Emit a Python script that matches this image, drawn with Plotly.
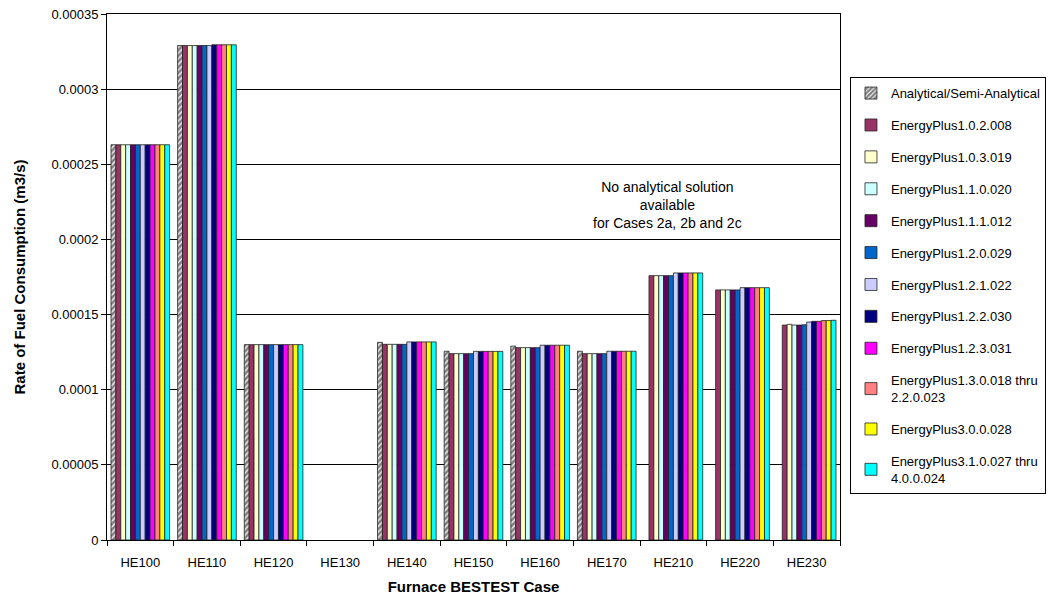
import plotly.graph_objects as go

cases = ["HE100", "HE110", "HE120", "HE130", "HE140", "HE150", "HE160", "HE170", "HE210", "HE220", "HE230"]

analytical = [0.000263, 0.000329, 0.000130, None, 0.0001315, 0.0001256, 0.0001290, 0.0001256, None, None, None]
ep_1_0_2 = [0.000263, 0.000329, 0.000130, None, 0.0001302, 0.0001240, 0.0001280, 0.0001240, 0.0001759, 0.0001664, 0.0001430]
ep_1_0_3 = [0.000263, 0.000329, 0.000130, None, 0.0001302, 0.0001240, 0.0001280, 0.0001240, 0.0001759, 0.0001664, 0.0001435]
ep_1_1_0 = [0.000263, 0.000329, 0.000130, None, 0.0001302, 0.0001240, 0.0001280, 0.0001240, 0.0001759, 0.0001664, 0.0001430]
ep_1_1_1 = [0.000263, 0.000329, 0.000130, None, 0.0001302, 0.0001240, 0.0001280, 0.0001240, 0.0001759, 0.0001664, 0.0001430]
ep_1_2_0 = [0.000263, 0.000329, 0.000130, None, 0.0001302, 0.0001240, 0.0001280, 0.0001240, 0.0001759, 0.0001664, 0.0001432]
ep_1_2_1 = [0.000263, 0.000329, 0.000130, None, 0.0001318, 0.0001255, 0.0001296, 0.0001256, 0.0001777, 0.0001679, 0.0001450]
ep_1_2_2 = [0.000263, 0.0003295, 0.000130, None, 0.0001318, 0.0001255, 0.0001296, 0.0001256, 0.0001777, 0.0001679, 0.0001455]
ep_1_2_3 = [0.000263, 0.0003295, 0.000130, None, 0.0001318, 0.0001255, 0.0001296, 0.0001256, 0.0001777, 0.0001679, 0.0001455]
ep_1_3_0 = [0.000263, 0.0003295, 0.000130, None, 0.0001318, 0.0001255, 0.0001296, 0.0001256, 0.0001777, 0.0001679, 0.0001460]
ep_3_0_0 = [0.000263, 0.0003295, 0.000130, None, 0.0001318, 0.0001255, 0.0001296, 0.0001256, 0.0001777, 0.0001679, 0.0001460]
ep_3_1_0 = [0.000263, 0.0003295, 0.000130, None, 0.0001318, 0.0001255, 0.0001296, 0.0001256, 0.0001777, 0.0001679, 0.0001462]

series_names = [
    "Analytical/Semi-Analytical",
    "EnergyPlus1.0.2.008",
    "EnergyPlus1.0.3.019",
    "EnergyPlus1.1.0.020",
    "EnergyPlus1.1.1.012",
    "EnergyPlus1.2.0.029",
    "EnergyPlus1.2.1.022",
    "EnergyPlus1.2.2.030",
    "EnergyPlus1.2.3.031",
    "EnergyPlus1.3.0.018 thru<br>2.2.0.023",
    "EnergyPlus3.0.0.028",
    "EnergyPlus3.1.0.027 thru<br>4.0.0.024",
]
series_values = [analytical, ep_1_0_2, ep_1_0_3, ep_1_1_0, ep_1_1_1, ep_1_2_0,
                 ep_1_2_1, ep_1_2_2, ep_1_2_3, ep_1_3_0, ep_3_0_0, ep_3_1_0]
series_colors = ["#FFFFFF", "#993366", "#FFFFCC", "#CCFFFF", "#660066", "#0066CC",
                 "#CCCCFF", "#000080", "#FF00FF", "#FF8080", "#FFFF00", "#00FFFF"]

y_tickvals = [0, 0.00005, 0.0001, 0.00015, 0.0002, 0.00025, 0.0003, 0.00035]
y_ticktext = ["0", "0.00005", "0.0001", "0.00015", "0.0002", "0.00025", "0.0003", "0.00035"]

fig = go.Figure()
for i, (name, vals, col) in enumerate(zip(series_names, series_values, series_colors)):
    marker = dict(color=col, line=dict(color="#222222", width=0.8))
    if i == 0:
        marker["pattern"] = dict(shape="/", fgcolor="#000000", bgcolor="#FFFFFF",
                                 size=4, solidity=0.7)
    fig.add_trace(go.Bar(x=cases, y=vals, name=name, marker=marker,
                         legendgroup=name))

font_family = "Liberation Sans, Arial, sans-serif"

fig.update_layout(
    width=1049, height=594,
    margin=dict(l=99, r=217, t=6, b=62),
    paper_bgcolor="#FFFFFF", plot_bgcolor="#FFFFFF",
    barmode="group", bargap=0.12, bargroupgap=0,
    font=dict(family=font_family, size=13, color="#000000"),
    legend=dict(x=1.0136, y=0.88, xanchor="left", yanchor="top",
                bordercolor="#000000", borderwidth=1,
                font=dict(size=13, family=font_family),
                tracegroupgap=12, itemwidth=30),
    xaxis=dict(
        type="category", categoryorder="array", categoryarray=cases,
        showline=True, linecolor="#000000", linewidth=1, mirror=True,
        ticks="outside", tickson="boundaries", ticklen=5, tickcolor="#000000",
        tickfont=dict(size=13), showgrid=False, automargin=False,
        ticklabelstandoff=10, ticklabeloverflow="allow",
        title=dict(text="<b>Furnace BESTEST Case</b>", font=dict(size=15), standoff=12),
    ),
    yaxis=dict(
        range=[0, 0.00035], tickvals=y_tickvals, ticktext=y_ticktext,
        showline=True, linecolor="#000000", linewidth=1, mirror=True,
        ticks="outside", ticklen=5, tickcolor="#000000",
        showgrid=True, gridcolor="#000000", gridwidth=1,
        tickfont=dict(size=13), zeroline=False, automargin=False,
        ticklabeloverflow="allow",
        title=dict(text="<b>Rate of Fuel Consumption (m3/s)</b>", font=dict(size=15), standoff=22),
    ),
    annotations=[dict(
        xref="paper", yref="y", x=0.765, y=0.000223,
        xanchor="center", yanchor="middle",
        text="No analytical solution<br>available<br>for Cases 2a, 2b and 2c",
        showarrow=False, font=dict(size=14, family=font_family), align="center",
    )],
)

fig.write_html("out.html")
